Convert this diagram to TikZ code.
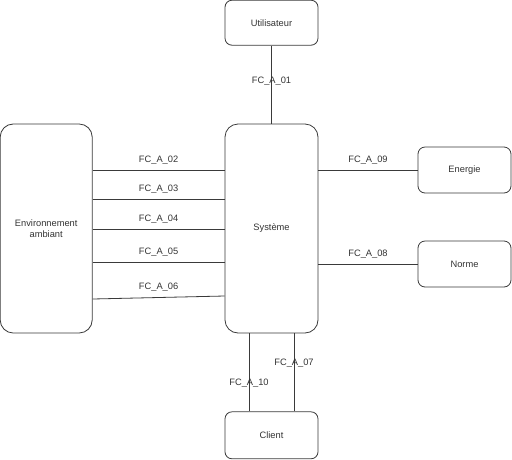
\documentclass[tikz,border=0pt]{standalone}
\usepackage{fontspec}
\setmainfont{Liberation Sans}
\usetikzlibrary{positioning}
\definecolor{cline}{HTML}{3a3a3a}
\definecolor{ctext}{HTML}{333333}

\begin{document}
\begin{tikzpicture}[x=1pt, y=-1pt, line width=.8pt, cline,
    every node/.style={font=\fontsize{9.3}{11}\selectfont, text=ctext},
    box/.style={draw=cline, rounded corners=7pt, minimum width=93pt, minimum height=45pt, inner sep=0pt},
    tall/.style={box, rounded corners=13pt, minimum height=209pt}]
      \useasboundingbox (0,0) rectangle (512,459);
      \node[tall] (sys) at (271.5,228.5) {Système};
      \node[box, above=78pt of sys] (user) {Utilisateur};
      \node[box, below=78pt of sys, minimum height=47pt] (client) {Client};
      \node[tall, left=132pt of sys, minimum width=92pt, align=center] (env) {Environnement\\ambiant};
      \node[box, minimum height=46pt] (en) at (464.5,170) {Energie};
      \node[box, minimum height=46pt] (norm) at (464.5,264) {Norme};
      % top and bottom links
      \draw (user) -- node[pos=.45] {FC\_A\_01} (sys);
      \draw (sys.south -| 249,0) -- node[pos=.64] {FC\_A\_10} (client.north -| 249,0);
      \draw (sys.south -| 294,0) -- node[pos=.38] {FC\_A\_07} (client.north -| 294,0);
      % links to the surroundings
      \foreach \y/\n in {170/02,199/03,229/04,262/05} {
        \draw (env.east |- 0,\y) -- node[above=2pt] {FC\_A\_\n} (sys.west |- 0,\y);
      }
      \draw (env.east |- 0,299) -- node[above=2pt] {FC\_A\_06} (sys.west |- 0,296);
      \draw (sys.east |- en.west) -- node[above=2pt] {FC\_A\_09} (en.west);
      \draw (sys.east |- norm.west) -- node[above=2pt] {FC\_A\_08} (norm.west);
    \end{tikzpicture}
\end{document}
